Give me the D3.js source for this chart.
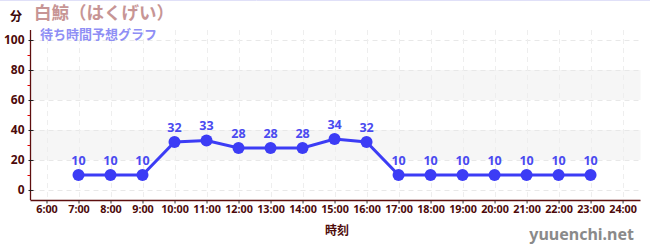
<!DOCTYPE html>
<html><head><meta charset="utf-8">
<script src="https://cdn.jsdelivr.net/npm/d3@7"></script>
<style>
html,body{margin:0;padding:0;background:#fff;}
svg{display:block;font-family:"Noto Sans CJK JP","Noto Sans",sans-serif;}
</style></head>
<body>
<svg id="c" width="650" height="250"></svg>
<script>
const hours = [7,8,9,10,11,12,13,14,15,16,17,18,19,20,21,22,23];
const waits = [10,10,10,32,33,28,28,28,34,32,10,10,10,10,10,10,10];
const xTickHours = [6,7,8,9,10,11,12,13,14,15,16,17,18,19,20,21,22,23,24];
const yTicks = [0,20,40,60,80,100];
const yMinorTicks = [10,30,50,70,90];
const bands = [[20,40],[60,80]];
const title = "白鯨（はくげい）";
const subtitle = "待ち時間予想グラフ";
const yLabel = "分";
const xLabel = "時刻";
const credit = "yuuenchi.net";

const svg = d3.select("#c");
const x = d3.scaleLinear().domain([5.5, 24.56]).range([30.5, 640.5]);
const y = d3.scaleLinear().domain([-6.667, 106.667]).range([200, 30]);
const axisCol = "#5e0f0f";
const textCol = "#4d0a0a";
const blue = "#3c3cf5";

// top border line
svg.append("line").attr("x1",0).attr("x2",650).attr("y1",0.5).attr("y2",0.5)
  .attr("stroke","#e0e0f8").attr("stroke-width",1);

// bands
svg.selectAll("rect.band").data(bands).join("rect")
  .attr("x", x(5.5)).attr("width", x(24.56)-x(5.5))
  .attr("y", d=>y(d[1])).attr("height", d=>y(d[0])-y(d[1]))
  .attr("fill","#f6f6f6");

// grid
svg.selectAll("line.hg").data(yTicks).join("line")
  .attr("x1", x(5.5)).attr("x2", x(24.56))
  .attr("y1", d=>Math.round(y(d))+0.5).attr("y2", d=>Math.round(y(d))+0.5)
  .attr("stroke","#e8e8e8").attr("stroke-dasharray","5,4");
svg.selectAll("line.vg").data(xTickHours).join("line")
  .attr("x1", d=>Math.round(x(d))+0.5).attr("x2", d=>Math.round(x(d))+0.5)
  .attr("y1", 30).attr("y2", 200)
  .attr("stroke","#eeeeee").attr("stroke-dasharray","5,4");

// axes
const gy = svg.append("g").attr("transform","translate(30.5,0)")
  .call(d3.axisLeft(y).tickValues(yTicks).tickSize(3).tickPadding(3));
gy.select(".domain").attr("stroke",axisCol).attr("stroke-width",1.3).attr("d","M0,30V200");
gy.selectAll(".tick line").attr("stroke","#222").attr("x1",-2).attr("x2",3);
gy.selectAll(".tick text").attr("fill",textCol).attr("font-size",12).attr("font-weight","bold")
  .attr("font-family","Noto Sans, sans-serif");
svg.selectAll("line.minor").data(yMinorTicks).join("line")
  .attr("x1",27.5).attr("x2",30).attr("y1",d=>Math.round(y(d))+0.5).attr("y2",d=>Math.round(y(d))+0.5)
  .attr("stroke","#e00000");

const gx = svg.append("g").attr("transform","translate(0,200.5)")
  .call(d3.axisBottom(x).tickValues(xTickHours).tickSize(3).tickPadding(2).tickFormat(d=>d+":00"));
gx.select(".domain").attr("stroke",axisCol).attr("stroke-width",1.3).attr("d","M30.5,0H640.5");
gx.selectAll(".tick line").attr("stroke","#333");
gx.selectAll(".tick text").attr("fill",textCol).attr("font-size",10.8).attr("font-weight","bold")
  .attr("font-family","Noto Sans, sans-serif");

// line
const line = d3.line().x((d,i)=>x(hours[i])).y(d=>y(d));
svg.append("path").datum(waits).attr("d",line).attr("fill","none")
  .attr("stroke",blue).attr("stroke-width",3);
svg.selectAll("circle.pt").data(waits).join("circle")
  .attr("cx",(d,i)=>x(hours[i])).attr("cy",d=>y(d)).attr("r",6).attr("fill",blue);
svg.selectAll("text.lbl").data(waits).join("text")
  .attr("x",(d,i)=>x(hours[i])).attr("y",d=>y(d)-10)
  .attr("text-anchor","middle").attr("font-size",12.5).attr("font-weight","bold")
  .attr("fill","#4a4af0").attr("font-family","Noto Sans, sans-serif").text(d=>d);

// titles
svg.append("text").attr("x",16).attr("y",21).attr("text-anchor","middle")
  .attr("font-size",12).attr("font-weight","bold").attr("fill","#3a0505").text(yLabel);
svg.append("text").attr("x",34).attr("y",18.5).attr("font-size",17.5).attr("font-weight","bold")
  .attr("fill","#c79595").text(title);
svg.append("text").attr("x",40).attr("y",38.8).attr("font-size",13).attr("font-weight","bold")
  .attr("fill","#8f8ff5").text(subtitle);
svg.append("text").attr("x",337).attr("y",235).attr("text-anchor","middle")
  .attr("font-size",12).attr("font-weight","bold").attr("fill","#4d0a0a").text(xLabel);
svg.append("text").attr("x",634).attr("y",240).attr("text-anchor","end")
  .attr("font-size",16).attr("font-weight","bold").attr("fill","#8a8a8a")
  .attr("font-family","Noto Sans, sans-serif").text(credit);
</script>
</body></html>
